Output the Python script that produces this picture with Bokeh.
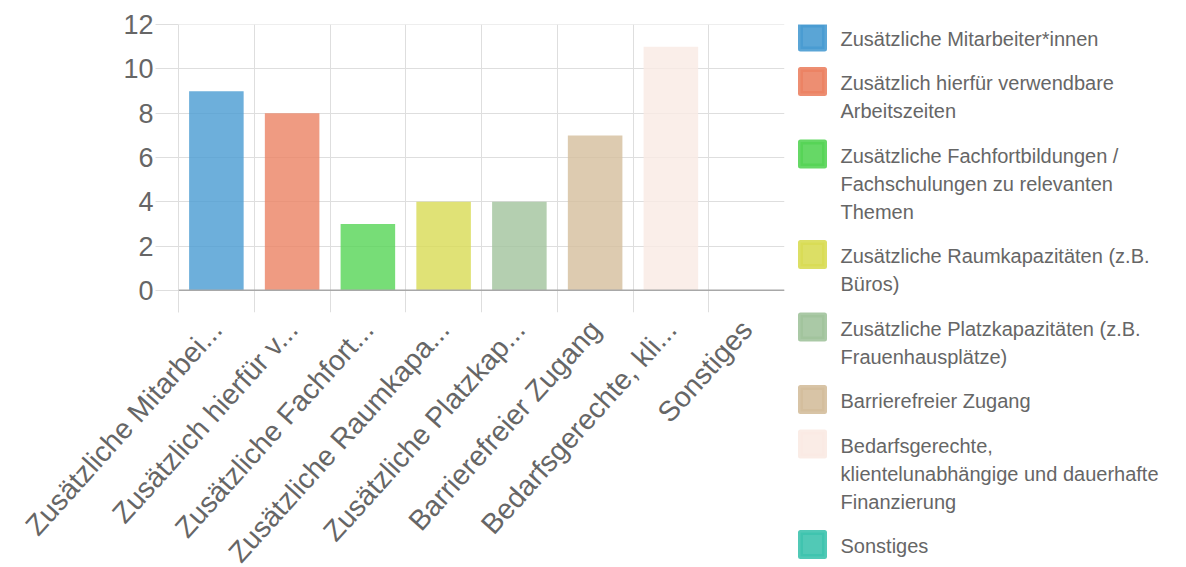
import math
from bokeh.plotting import figure
from bokeh.models import FactorRange, Range1d, FixedTicker, Span, ColumnDataSource
from bokeh.layouts import row
from bokeh.core.properties import value
from bokeh.embed import file_html
from bokeh.resources import INLINE

# ---- data ----
axis_labels = [
    "Zusätzliche Mitarbei...",
    "Zusätzlich hierfür v...",
    "Zusätzliche Fachfort...",
    "Zusätzliche Raumkapa...",
    "Zusätzliche Platzkap...",
    "Barrierefreier Zugang",
    "Bedarfsgerechte, kli...",
    "Sonstiges",
]
legend_lines = [
    ["Zusätzliche Mitarbeiter*innen"],
    ["Zusätzlich hierfür verwendbare", "Arbeitszeiten"],
    ["Zusätzliche Fachfortbildungen /", "Fachschulungen zu relevanten", "Themen"],
    ["Zusätzliche Raumkapazitäten (z.B.", "Büros)"],
    ["Zusätzliche Platzkapazitäten (z.B.", "Frauenhausplätze)"],
    ["Barrierefreier Zugang"],
    ["Bedarfsgerechte,", "klientelunabhängige und dauerhafte", "Finanzierung"],
    ["Sonstiges"],
]
counts = [9, 8, 3, 4, 4, 7, 11, 0]
colors = ["#489BD2", "#EB8263", "#55D455", "#D8DB54", "#A1C39C", "#D4BE9C", "#F9EAE3", "#3EC3AE"]
y_ticks = [0, 2, 4, 6, 8, 10, 12]

FONT = "Liberation Sans"
GRID = "#dedede"
TXT = "#666666"
TOP = 24

# ---- bar chart ----
p = figure(
    x_range=FactorRange(factors=axis_labels),
    y_range=Range1d(-1, 12.01),
    frame_width=606, frame_height=288,
    min_border_left=178, min_border_right=4, min_border_top=TOP, min_border_bottom=250,
    output_backend="svg", toolbar_location=None,
)
p.outline_line_color = None
p.background_fill_color = "white"
p.border_fill_color = "white"

src = ColumnDataSource(dict(x=axis_labels, top=counts, color=colors))
p.vbar(x="x", top="top", bottom=0, width=0.72, source=src,
       fill_color="color", fill_alpha=0.8, line_color=None)

p.xgrid.ticker = FixedTicker(ticks=list(range(1, len(axis_labels))))
p.xgrid.grid_line_color = GRID
p.ygrid.ticker = FixedTicker(ticks=y_ticks)
p.ygrid.grid_line_color = GRID

p.add_layout(Span(location=0, dimension="width", line_color="#a8a8a8", line_width=1.5))

p.yaxis.ticker = FixedTicker(ticks=y_ticks)
p.yaxis.axis_line_color = GRID
p.yaxis.major_tick_line_color = GRID
p.yaxis.major_tick_out = 23
p.yaxis.major_tick_in = 0
p.yaxis.minor_tick_line_color = None
p.yaxis.major_label_standoff = 2
p.yaxis.major_label_text_font = FONT
p.yaxis.major_label_text_font_size = "27px"
p.yaxis.major_label_text_color = TXT

p.xaxis.axis_line_color = None
p.xaxis.major_tick_line_color = None
p.xaxis.minor_tick_line_color = None
p.xaxis.major_label_orientation = math.radians(48)
p.xaxis.major_label_standoff = 6
p.xaxis.major_label_text_font = FONT
p.xaxis.major_label_text_font_size = "28.5px"
p.xaxis.major_label_text_color = TXT

# ---- legend panel (frame top aligned with the chart frame top) ----
LW, LH = 390, 536
lg = figure(
    x_range=Range1d(0, LW), y_range=Range1d(0, LH),
    frame_width=LW, frame_height=LH,
    min_border_top=TOP, min_border_bottom=0, min_border_left=0, min_border_right=0,
    x_axis_type=None, y_axis_type=None,
    output_backend="svg", toolbar_location=None,
)
lg.outline_line_color = None
lg.xgrid.visible = False
lg.ygrid.visible = False

line_h, item_gap, y0 = 28, 16.5, 38
sq_x, sq_y, sq_c = [], [], []
tx, ty, tt = [], [], []
y = y0
for lines, c in zip(legend_lines, colors):
    sq_x.append(24)
    sq_y.append(LH - (y - 1.5 - TOP))
    sq_c.append(c)
    for k, ln in enumerate(lines):
        tx.append(52)
        ty.append(LH - (y + k * line_h - TOP))
        tt.append(ln)
    y += len(lines) * line_h + item_gap

lg.scatter(x=sq_x, y=sq_y, marker="square", size=24, fill_color=sq_c, line_color=sq_c,
           line_width=5, line_join="round", fill_alpha=0.9, line_alpha=0.9)
lg.text(x=tx, y=ty, text=tt, text_baseline="middle", text_align="left",
        text_font=value(FONT), text_font_size="20px", text_color=TXT)

layout = row(p, lg)
open("out.html", "w").write(file_html(layout, INLINE))
